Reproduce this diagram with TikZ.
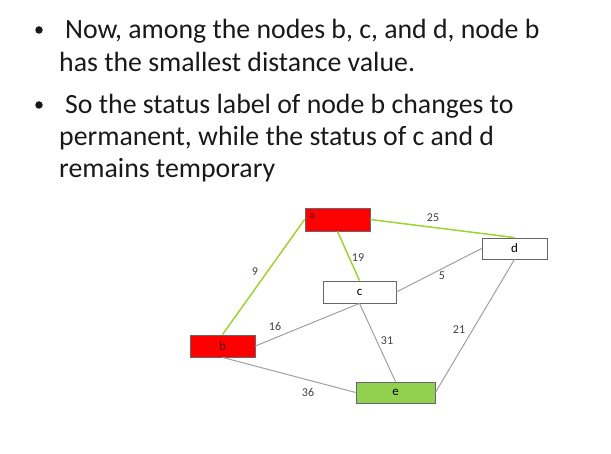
\documentclass[tikz,border=0pt]{standalone}
\usepackage{fontspec}
\setmainfont{Carlito}
\definecolor{leaf}{RGB}{146,208,80}
\definecolor{treeline}{RGB}{160,210,50}
\definecolor{edgegray}{RGB}{160,160,160}
\begin{document}
\begin{tikzpicture}[x=1pt,y=-1pt,
  body/.style={font=\fontsize{27.8}{32}\selectfont, anchor=base west, inner sep=0pt, text=black!90},
  dot/.style={fill=black!90, circle, inner sep=0pt, minimum size=7.5pt},
  vtx/.style={draw=black!60, line width=0.8pt, inner sep=0pt, font=\fontsize{13}{14}\selectfont},
  perm/.style={vtx, fill=red},
  temp/.style={vtx, fill=white},
  dest/.style={vtx, fill=leaf},
  tree/.style={draw=treeline, line width=1.5pt},
  plain/.style={draw=edgegray, line width=1pt},
  wt/.style={font=\fontsize{12}{13}\selectfont, text=black!75, inner sep=0pt}]
\useasboundingbox (0,0) rectangle (611,454);

% bullet text
\node[dot] (dot1) at (39,30) {};
\node[body] (l1) at (65,39) {Now, among the nodes b, c, and d, node b};
\node[body] (l2) at (59,72) {has the smallest distance value.};
\node[dot] (dot2) at (39,105) {};
\node[body] (l3) at (65,114) {So the status label of node b changes to};
\node[body] (l4) at (59,146) {permanent, while the status of c and d};
\node[body] (l5) at (59,178) {remains temporary};

% graph nodes
\node[perm, minimum width=65pt, minimum height=23pt] (a) at (337.5,219.5) {};
\node[inner sep=0pt, font=\fontsize{10.5}{11}\selectfont, text=red!30!black] (aname) at (312.5,215.5) {a};
\node[temp, minimum width=65pt, minimum height=21pt] (d) at (514.5,248.5) {d};
\node[temp, minimum width=73pt, minimum height=22pt] (c) at (359.5,292) {c};
\node[perm, minimum width=65pt, minimum height=22pt, text=red!35!black] (b) at (222.5,346) {b};
\node[dest, minimum width=79pt, minimum height=21pt] (e) at (395.5,392.5) {e};

% edges
\draw[tree] (b.north) -- (a.west);
\draw[tree] (a.south) -- (c.north);
\draw[tree] (a.east) -- (d.north);
\draw[plain] (c.east) -- (d.west);
\draw[plain] (b.east) -- (c.south);
\draw[plain] (c.south) -- (e.north);
\draw[plain] (d.south) -- (e.east);
\draw[plain] (b.south) -- (e.west);

% weights
\node[wt] (w25) at (433,218) {25};
\node[wt] (w19) at (358,258) {19};
\node[wt] (w9)  at (255,272) {9};
\node[wt] (w5)  at (442,276) {5};
\node[wt] (w16) at (275,326) {16};
\node[wt] (w31) at (387,341) {31};
\node[wt] (w21) at (459,330) {21};
\node[wt] (w36) at (308,392) {36};
\end{tikzpicture}
\end{document}
